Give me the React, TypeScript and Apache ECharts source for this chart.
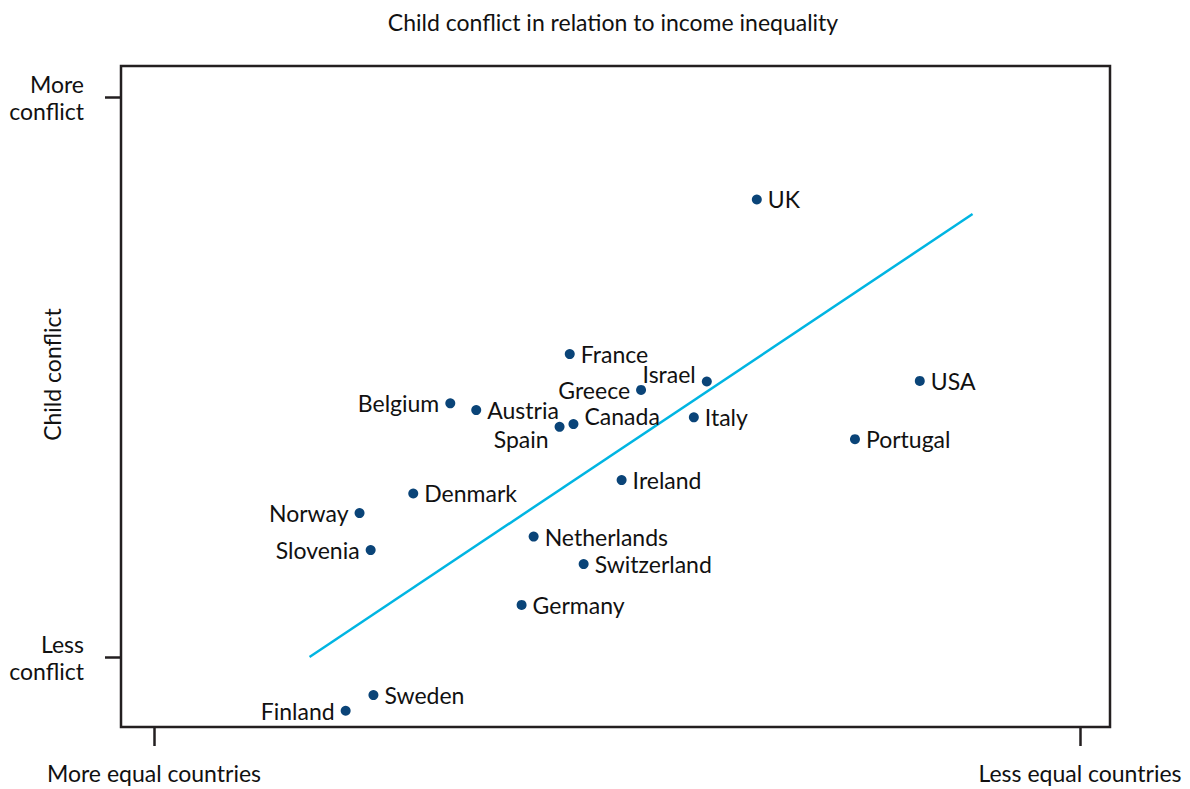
import React, { useEffect, useRef } from "react";
import * as echarts from "echarts";

// Countries and their (relative) positions: x = income inequality, y = child conflict
const countries = [
  "UK", "France", "Israel", "USA", "Greece", "Belgium", "Austria", "Canada", "Spain", "Italy",
  "Portugal", "Ireland", "Denmark", "Norway", "Netherlands", "Slovenia", "Switzerland", "Germany", "Sweden", "Finland",
];
const inequality = [
  6.51, 4.49, 5.97, 8.27, 5.26, 3.2, 3.48, 4.53, 4.38, 5.83,
  7.57, 5.05, 2.8, 2.22, 4.1, 2.34, 4.64, 3.97, 2.37, 2.07,
];
const conflict = [
  8.17, 5.41, 4.92, 4.93, 4.77, 4.53, 4.41, 4.16, 4.11, 4.28,
  3.89, 3.16, 2.92, 2.57, 2.15, 1.91, 1.66, 0.93, -0.68, -0.96,
];
// Label placement per country
const labelSide: Record<string, string> = {
  Israel: "left", Greece: "left", Belgium: "left", Spain: "left",
  Norway: "left", Slovenia: "left", Finland: "left",
};
const labelShiftY: Record<string, number> = { Israel: -7, Spain: 12, Canada: -8 };

// Trend line end points
const trendX = [1.68, 8.84];
const trendY = [0, 7.91];

const xTickLabels = ["More equal countries", "Less equal countries"];
const yTickLabels = ["Less\nconflict", "More\nconflict"];
const tickValues = [0, 10];

const FONT = "Lato";
const TEXT = "#111111";
const FRAME = "#231f20";

export default function App() {
  const ref = useRef<HTMLDivElement>(null);
  useEffect(() => {
    if (!ref.current) return;
    const chart = echarts.init(ref.current, undefined, { renderer: "svg" });
    const points = countries.map((c, i) => ({
      name: c,
      value: [inequality[i], conflict[i]],
      label: {
        position: labelSide[c] || "right",
        offset: [0, labelShiftY[c] || 0],
      },
    }));
    chart.setOption({
      animation: false,
      backgroundColor: "#ffffff",
      title: {
        text: "Child conflict in relation to income inequality",
        left: 608,
        textAlign: "center",
        top: 5,
        textStyle: { fontFamily: FONT, fontSize: 23, fontWeight: "normal", color: TEXT },
      },
      grid: {
        left: 121,
        right: 80,
        top: 66,
        bottom: 62,
        outerBoundsMode: "none",
        containLabel: false,
        show: true,
        borderColor: FRAME,
        borderWidth: 2.5,
      },
      xAxis: {
        type: "value",
        min: -0.356,
        max: 10.324,
        splitLine: { show: false },
        axisLine: { show: false, onZero: false },
        axisTick: { show: true, length: 19, customValues: tickValues, lineStyle: { color: FRAME, width: 2.5 } },
        axisLabel: {
          customValues: tickValues,
          margin: 34,
          fontFamily: FONT,
          fontSize: 23,
          color: TEXT,
          formatter: (v: number) => (v === 0 ? xTickLabels[0] : xTickLabels[1]),
        },
      },
      yAxis: {
        type: "value",
        min: -1.25,
        max: 10.554,
        name: "Child conflict",
        nameLocation: "middle",
        nameRotate: 90,
        nameGap: 58,
        nameMoveOverlap: false,
        nameTextStyle: { fontFamily: FONT, fontSize: 23, color: TEXT, padding: [0, 0, 0, 44] },
        splitLine: { show: false },
        axisLine: { show: false, onZero: false },
        axisTick: { show: true, length: 16, customValues: tickValues, lineStyle: { color: FRAME, width: 2.5 } },
        axisLabel: {
          customValues: tickValues,
          margin: 37,
          align: "right",
          lineHeight: 27,
          fontFamily: FONT,
          fontSize: 23,
          color: TEXT,
          formatter: (v: number) => (v === 0 ? yTickLabels[0] : yTickLabels[1]),
        },
      },
      series: [
        {
          type: "line",
          data: [
            [trendX[0], trendY[0]],
            [trendX[1], trendY[1]],
          ],
          showSymbol: false,
          symbol: "none",
          lineStyle: { color: "#00b5e2", width: 2.5 },
          z: 1,
        },
        {
          type: "scatter",
          data: points,
          symbolSize: 10,
          itemStyle: { color: "#0a4478", opacity: 1 },
          label: {
            show: true,
            formatter: "{b}",
            distance: 6,
            fontFamily: FONT,
            fontSize: 23,
            color: TEXT,
          },
          z: 2,
        },
      ],
    });
    return () => chart.dispose();
  }, []);
  return (
    <div
      ref={ref}
      style={{ position: "fixed", left: 0, top: 0, width: 1190, height: 789, background: "#fff" }}
    />
  );
}
